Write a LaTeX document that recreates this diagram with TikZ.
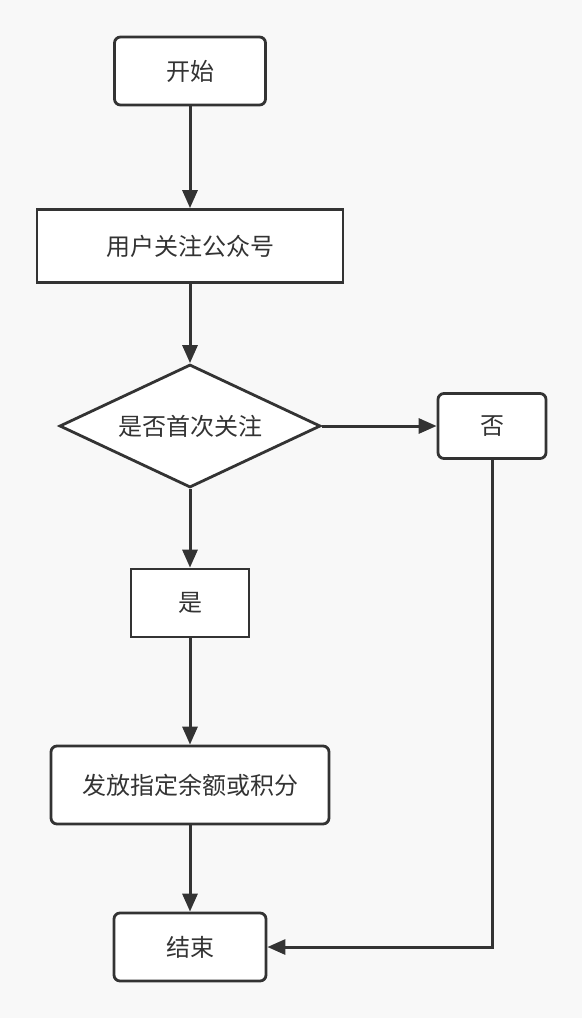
\documentclass[tikz,border=0pt]{standalone}
\usepackage{fontspec}
\setmainfont{Noto Sans CJK SC}
\usepackage{xcolor}
\usetikzlibrary{positioning}
\usetikzlibrary{arrows.meta,shapes.geometric}
\definecolor{bgc}{HTML}{F8F8F8}
\definecolor{linec}{HTML}{333333}
\tikzset{
  box/.style={draw=linec,fill=white,line width=2.8pt,text=linec,
    font=\fontsize{24pt}{29pt}\selectfont,inner sep=0pt},
  term/.style={box,rounded corners=6pt},
  proc/.style={box},
  decision/.style={box,diamond,aspect=2},
  flow/.style={draw=linec,line width=3pt,-{Triangle[length=18pt,width=15pt]}}
}

\begin{document}
\begin{tikzpicture}[x=1pt,y=1pt,on grid]
  \fill[bgc] (0,0) rectangle (582,-1018);
  \node[term,minimum width=151pt,minimum height=68pt] (start) at (190,-71) {开始};
  \node[proc,minimum width=306pt,minimum height=73pt] (follow) [below=175pt of start] {用户关注公众号};
  \node[decision,minimum width=261pt,minimum height=123pt] (first) [below=180pt of follow] {是否首次关注};
  \node[term,minimum width=108pt,minimum height=65pt] (no) [right=302pt of first] {否};
  \node[proc,minimum width=118pt,minimum height=68pt] (yes) [below=177pt of first] {是};
  \node[term,minimum width=278pt,minimum height=78pt] (give) [below=182pt of yes] {发放指定余额或积分};
  \node[term,minimum width=152pt,minimum height=68pt] (end) [below=162pt of give] {结束};
   \draw[flow] (start) -- (follow);
   \draw[flow] (follow) -- (first);
   \draw[flow] (first) -- (no);
   \draw[flow] (first) -- (yes);
   \draw[flow] (yes) -- (give);
   \draw[flow] (give) -- (end);
   \draw[flow] (no) |- (end);
\end{tikzpicture}
\end{document}
